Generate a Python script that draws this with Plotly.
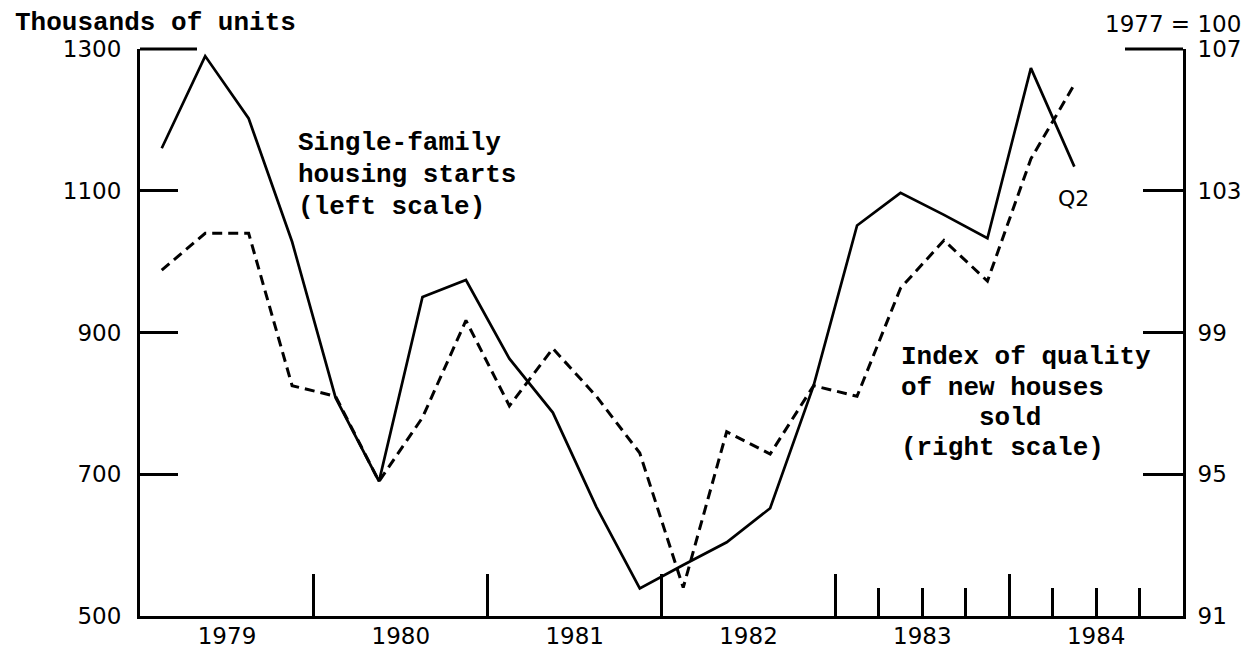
import plotly.graph_objects as go

# ---- data (quarterly, 1979Q1 - 1984Q2) ----
quarters = ["1979Q1", "1979Q2", "1979Q3", "1979Q4",
            "1980Q1", "1980Q2", "1980Q3", "1980Q4",
            "1981Q1", "1981Q2", "1981Q3", "1981Q4",
            "1982Q1", "1982Q2", "1982Q3", "1982Q4",
            "1983Q1", "1983Q2", "1983Q3", "1983Q4",
            "1984Q1", "1984Q2"]
housing_starts = [1160, 1290, 1202, 1028,
                  808, 690, 950, 974,
                  863, 787, 654, 539,
                  572, 604, 652, 825,
                  1051, 1097, 1066, 1033,
                  1273, 1134]
quality_index = [100.76, 101.8, 101.8, 97.5,
                 97.2, 94.8, 96.6, 99.34,
                 96.93, 98.55, 97.2, 95.6,
                 91.8, 96.2, 95.57, 97.5,
                 97.2, 100.25, 101.6, 100.45,
                 103.9, 106.0]
years = [1979, 1980, 1981, 1982, 1983, 1984]
left_ticks = [500, 700, 900, 1100, 1300]
right_ticks = [91, 95, 99, 103, 107]
quarter_ticks_1983_84 = ["1983Q2", "1983Q3", "1983Q4", "1984Q2", "1984Q3", "1984Q4"]


def qpos(q, mid=True):
    y, n = int(q[:4]), int(q[-1])
    return y + ((n - 0.5) if mid else (n - 1)) / 4.0


xq = [qpos(q) for q in quarters]

# geometry (page pixels; the page body has an 8px margin)
OFF = 8
W, H = 1253 - OFF, 650 - OFF
L, R, T, B = 140, 1183, 49, 616

TICK_FONT = dict(family="DejaVu Sans", size=23, color="black")
TEXT_FONT = dict(family="Liberation Mono", size=26, color="black", weight="bold")

fig = go.Figure()
fig.add_trace(go.Scatter(x=xq, y=housing_starts, mode="lines",
                         line=dict(color="black", width=2.7),
                         showlegend=False, hoverinfo="skip"))
fig.add_trace(go.Scatter(x=xq, y=quality_index, mode="lines", yaxis="y2",
                         line=dict(color="black", width=3, dash="10px,6px"),
                         showlegend=False, hoverinfo="skip"))


def px_x(p):
    return (p - L) / (R - L)


def px_y(p):
    return (B - p) / (B - T)


annotations = []


def add_text(text, x, y, font, xanchor="left"):
    annotations.append(dict(text=text, x=px_x(x), y=px_y(y), xref="paper", yref="paper",
                            xanchor=xanchor, yanchor="middle", showarrow=False, font=font))


add_text("Thousands of units", 13, 23, TEXT_FONT)
add_text("1977 = 100", 1243, 24, TICK_FONT, xanchor="right")
add_text("Single-family", 296, 143, TEXT_FONT)
add_text("housing starts", 296, 175, TEXT_FONT)
add_text("(left scale)", 296, 207, TEXT_FONT)
add_text("Index of quality", 899, 357, TEXT_FONT)
add_text("of new houses", 899, 388, TEXT_FONT)
add_text("sold", 977, 418, TEXT_FONT)
add_text("(right scale)", 899, 448, TEXT_FONT)
add_text("Q2", 1073, 198, dict(family="DejaVu Sans", size=22, color="black"), xanchor="center")

shapes = [
    dict(type="line", xref="paper", yref="paper", x0=0, x1=px_x(197), y0=1, y1=1,
         line=dict(color="black", width=3)),
    dict(type="line", xref="paper", yref="paper", x0=px_x(1125), x1=1, y0=1, y1=1,
         line=dict(color="black", width=3)),
]

fig.update_layout(
    width=W, height=H,
    margin=dict(l=L - OFF, r=(W + OFF) - R, t=T - OFF, b=(H + OFF) - B, pad=0, autoexpand=False),
    paper_bgcolor="white", plot_bgcolor="white",
    annotations=annotations, shapes=shapes,
    xaxis=dict(range=[1979, 1985], showgrid=False, zeroline=False, automargin=False,
               showline=True, linecolor="black", linewidth=3,
               tickmode="array", tickvals=years, ticktext=[str(y) for y in years],
               ticks="inside", ticklen=42, tickwidth=3, tickcolor="black",
               ticklabelshift=87, ticklabelstandoff=-3, tickfont=TICK_FONT,
               minor=dict(tickmode="array", tickvals=[qpos(q, mid=False) for q in quarter_ticks_1983_84],
                          ticks="inside", ticklen=28, tickwidth=3, tickcolor="black")),
    yaxis=dict(range=[500, 1300], showgrid=False, zeroline=False, automargin=False,
               showline=True, linecolor="black", linewidth=3,
               tickmode="array", tickvals=left_ticks,
               ticks="inside", ticklen=38, tickwidth=3, tickcolor="black",
               ticklabelstandoff=11, tickfont=TICK_FONT),
    yaxis2=dict(range=[91, 107], overlaying="y", side="right", showgrid=False, zeroline=False,
                automargin=False,
                showline=True, linecolor="black", linewidth=3,
                tickmode="array", tickvals=right_ticks,
                ticks="inside", ticklen=40, tickwidth=3, tickcolor="black",
                ticklabelstandoff=7, tickfont=TICK_FONT),
)

fig.write_html("out.html")
